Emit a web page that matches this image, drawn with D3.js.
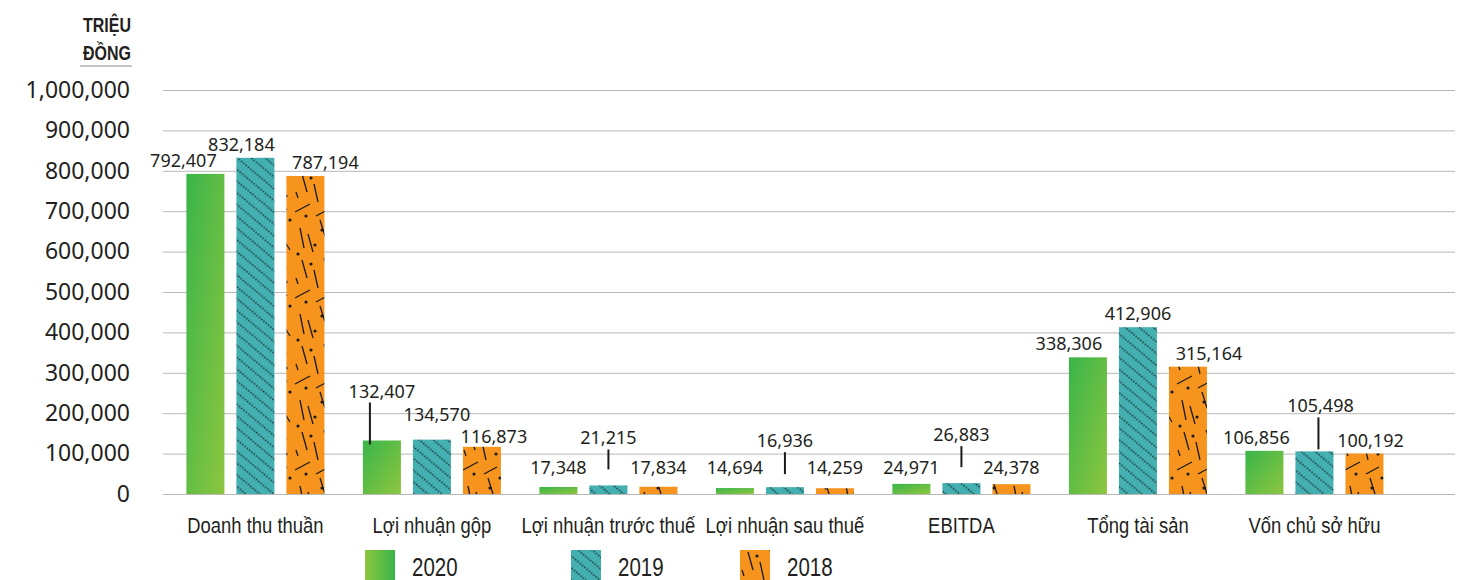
<!DOCTYPE html>
<html>
<head>
<meta charset="utf-8">
<script src="https://cdn.jsdelivr.net/npm/d3@7"></script>
<style>
  body { margin: 0; background: #fff; }
  svg { display: block; }
  .tick text { font-family: "Noto Sans", sans-serif; font-size: 23px; fill: #231f20; }
  .tick line { stroke: #b8b8b8; }
</style>
</head>
<body>
<svg width="1465" height="580"></svg>
<script>
var categories = ["Doanh thu thuần", "Lợi nhuận gộp", "Lợi nhuận trước thuế", "Lợi nhuận sau thuế", "EBITDA", "Tổng tài sản", "Vốn chủ sở hữu"];
var years = ["2020", "2019", "2018"];
var values2020 = [792407, 132407, 17348, 14694, 24971, 338306, 106856];
var values2019 = [832184, 134570, 21215, 16936, 26883, 412906, 105498];
var values2018 = [787194, 116873, 17834, 14259, 24378, 315164, 100192];
var yTicks = [0, 100000, 200000, 300000, 400000, 500000, 600000, 700000, 800000, 900000, 1000000];
var unitLines = ["TRIỆU", "ĐỒNG"];

// label nudges so the value labels don't collide (dx, lift up, leader line length)
var labelTweaks = {
    "Doanh thu thuần|2020": {dx: -22},
    "Doanh thu thuần|2019": {dx: -14},
    "Doanh thu thuần|2018": {dx: 20},
    "Lợi nhuận gộp|2020": {lift: 36, leader: 42, lineDx: -12},
    "Lợi nhuận gộp|2019": {dx: 5, lift: 12},
    "Lợi nhuận gộp|2018": {dx: 12, lift: -3},
    "Lợi nhuận trước thuế|2020": {lift: 6},
    "Lợi nhuận trước thuế|2019": {lift: 34, leader: 20},
    "Lợi nhuận trước thuế|2018": {lift: 6},
    "Lợi nhuận sau thuế|2020": {lift: 7},
    "Lợi nhuận sau thuế|2019": {lift: 33, leader: 22},
    "Lợi nhuận sau thuế|2018": {lift: 7},
    "EBITDA|2020": {lift: 3},
    "EBITDA|2019": {lift: 35, leader: 21},
    "EBITDA|2018": {lift: 3},
    "Tổng tài sản|2020": {dx: -19},
    "Tổng tài sản|2018": {dx: 21},
    "Vốn chủ sở hữu|2020": {dx: -8},
    "Vốn chủ sở hữu|2019": {dx: 6, lift: 32, leader: 32, lineDx: 4},
    "Vốn chủ sở hữu|2018": {dx: 6}
};

var seriesByYear = {"2020": values2020, "2019": values2019, "2018": values2018};
var fills = {"2020": "url(#g2020)", "2019": "url(#p2019)", "2018": "url(#p2018)"};
var legendFills = {"2020": "url(#g2020legend)", "2019": "url(#p2019)", "2018": "url(#p2018)"};
var legendX = {"2020": 365, "2019": 571, "2018": 740};

// no narrow font installed, so squeeze Liberation Sans like Arial Narrow
var narrow = "Liberation Sans, Arial, sans-serif";
var squeeze = 0.82;

var svg = d3.select("svg");

var x0 = d3.scaleBand()
    .domain(categories)
    .range([168.75, 1401.1])
    .paddingInner(0.218)
    .paddingOuter(0.1);

var x1 = d3.scaleBand()
    .domain(years)
    .range([0, x0.bandwidth()])
    .paddingInner(0.24);

var y = d3.scaleLinear()
    .domain([0, 1000000])
    .range([494, 90]);

var defs = svg.append("defs");

var g1 = defs.append("linearGradient")
    .attr("id", "g2020")
    .attr("x1", 0).attr("y1", 0).attr("x2", 1).attr("y2", 1);
g1.append("stop").attr("offset", "0%").attr("stop-color", "#39b54a");
g1.append("stop").attr("offset", "100%").attr("stop-color", "#8dc63f");

var g2 = defs.append("linearGradient")
    .attr("id", "g2020legend")
    .attr("x1", 0).attr("y1", 0).attr("x2", 1).attr("y2", 0);
g2.append("stop").attr("offset", "0%").attr("stop-color", "#8dc63f");
g2.append("stop").attr("offset", "100%").attr("stop-color", "#39b54a");

var p19 = defs.append("pattern")
    .attr("id", "p2019")
    .attr("patternUnits", "userSpaceOnUse")
    .attr("width", 9)
    .attr("height", 9)
    .attr("patternTransform", "rotate(40)");
p19.append("rect").attr("width", 9).attr("height", 9).attr("fill", "#45b0b1");
p19.append("line")
    .attr("x1", 0).attr("y1", 4.5).attr("x2", 9).attr("y2", 4.5)
    .attr("stroke", "#14302f")
    .attr("stroke-width", 1.4)
    .attr("stroke-dasharray", "1.5 1.5");

// scattered strokes for the 2018 texture
var dashes = [
    [8, 2, 13, 20], [30, 0, 34, 10], [20, 12, 24, 30], [1, 40, 16, 32],
    [22, 44, 35, 37], [26, 48, 31, 64], [6, 56, 10, 76], [14, 62, 19, 80],
    [33, 70, 38, 78], [2, 20, 4, 26]
];
var dots = [[17, 6], [34, 24], [12, 44], [28, 58], [4, 82], [38, 48], [21, 73]];

var p18 = defs.append("pattern")
    .attr("id", "p2018")
    .attr("patternUnits", "userSpaceOnUse")
    .attr("width", 42)
    .attr("height", 86);
p18.append("rect").attr("width", 42).attr("height", 86).attr("fill", "#f7941d");
p18.selectAll("line")
    .data(dashes)
    .enter().append("line")
    .attr("x1", d => d[0]).attr("y1", d => d[1])
    .attr("x2", d => d[2]).attr("y2", d => d[3])
    .attr("stroke", "#1a1a1a")
    .attr("stroke-width", 1.3);
p18.selectAll("circle")
    .data(dots)
    .enter().append("circle")
    .attr("cx", d => d[0]).attr("cy", d => d[1])
    .attr("r", 1.6)
    .attr("fill", "#1a1a1a");

// grid + y axis
svg.append("g")
    .attr("transform", "translate(163,0)")
    .call(d3.axisLeft(y)
        .tickValues(yTicks)
        .tickSize(-(1455 - 163))
        .tickPadding(33)
        .tickFormat(d3.format(",")))
    .call(g => g.select(".domain").remove());

// unit title
svg.append("g")
    .selectAll("text")
    .data(unitLines)
    .enter().append("text")
    .attr("transform", (d, i) => "translate(131," + (32 + i * 28) + ") scale(" + squeeze + ",1)")
    .attr("text-anchor", "end")
    .attr("font-family", narrow)
    .attr("font-weight", "bold")
    .attr("font-size", 19.5)
    .attr("fill", "#231f20")
    .text(d => d);
svg.append("line")
    .attr("x1", 80).attr("x2", 132)
    .attr("y1", 66).attr("y2", 66)
    .attr("stroke", "#8a8a8a")
    .attr("stroke-width", 1);

// bars
var rows = [];
categories.forEach(function (c, i) {
    years.forEach(function (yr) {
        rows.push({cat: c, year: yr, value: seriesByYear[yr][i]});
    });
});

svg.append("g")
    .attr("class", "bars")
    .selectAll("rect")
    .data(rows)
    .enter().append("rect")
    .attr("x", d => x0(d.cat) + x1(d.year))
    .attr("y", d => y(d.value))
    .attr("width", x1.bandwidth())
    .attr("height", d => y(0) - y(d.value))
    .attr("fill", d => fills[d.year]);

// value labels
var labels = svg.append("g")
    .attr("font-family", "Noto Sans, sans-serif")
    .attr("font-size", 18)
    .attr("fill", "#231f20")
    .attr("text-anchor", "middle");

rows.forEach(function (d) {
    var t = labelTweaks[d.cat + "|" + d.year] || {};
    var cx = x0(d.cat) + x1(d.year) + x1.bandwidth() / 2;
    var base = y(d.value) - 7 - (t.lift || 0);
    labels.append("text")
        .attr("x", cx + (t.dx || 0))
        .attr("y", base)
        .text(d3.format(",")(d.value));
    if (t.leader) {
        svg.append("line")
            .attr("x1", cx + (t.lineDx || 0))
            .attr("x2", cx + (t.lineDx || 0))
            .attr("y1", base + 5)
            .attr("y2", base + 5 + t.leader)
            .attr("stroke", "#1a1a1a")
            .attr("stroke-width", 2);
    }
});

// category labels
svg.append("g")
    .selectAll("text")
    .data(categories)
    .enter().append("text")
    .attr("transform", d => "translate(" + (x0(d) + x0.bandwidth() / 2) + ",533) scale(" + squeeze + ",1)")
    .attr("text-anchor", "middle")
    .attr("font-family", narrow)
    .attr("font-size", 22.5)
    .attr("fill", "#231f20")
    .text(d => d);

// legend
var legend = svg.append("g")
    .selectAll("g")
    .data(years)
    .enter().append("g")
    .attr("transform", d => "translate(" + legendX[d] + ",550)");

legend.append("rect")
    .attr("width", 30)
    .attr("height", 30)
    .attr("fill", d => legendFills[d]);

legend.append("text")
    .attr("transform", "translate(47,26) scale(" + squeeze + ",1)")
    .attr("font-family", narrow)
    .attr("font-size", 25)
    .attr("fill", "#231f20")
    .text(d => d);
</script>
</body>
</html>
